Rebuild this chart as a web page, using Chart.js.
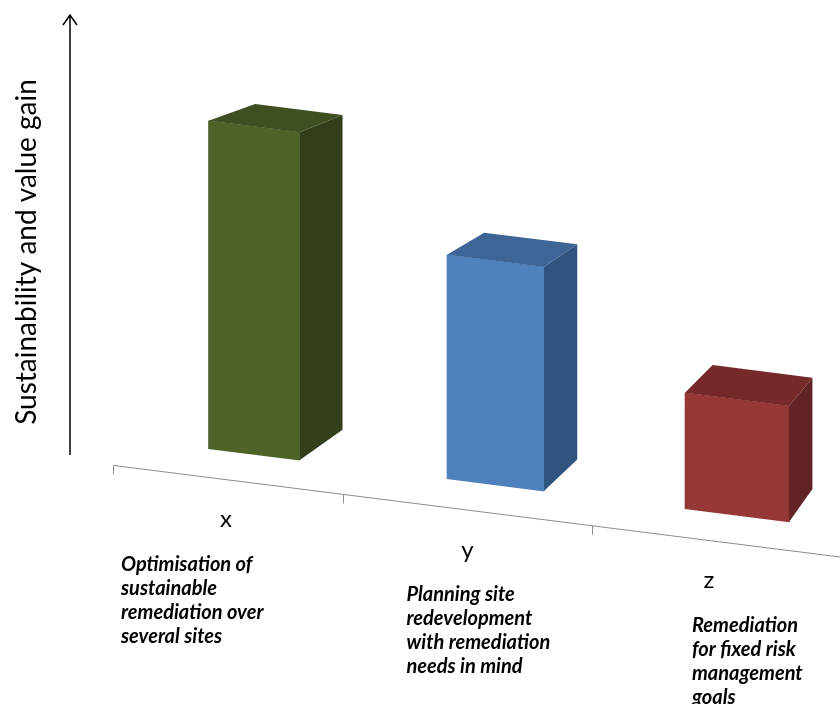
<!DOCTYPE html>
<html>
<head>
<meta charset="utf-8">
<script src="https://cdn.jsdelivr.net/npm/chart.js@4.4.1/dist/chart.umd.min.js"></script>
<style>
html, body { margin: 0; padding: 0; background: #fff; }
#wrap { width: 840px; height: 704px; }
</style>
</head>
<body>
<div id="wrap"><canvas id="chart" width="840" height="704"></canvas></div>
<script>
// chart data
const categories = ['x', 'y', 'z'];
const descriptions = [
    ['Optimisation of', 'sustainable', 'remediation over', 'several sites'],
    ['Planning site', 'redevelopment', 'with remediation', 'needs in mind'],
    ['Remediation', 'for fixed risk', 'management', 'goals']
];
const gainValues = [82, 56, 29];
const axisTitle = 'Sustainability and value gain';

// colours: front, top and side faces
const frontColors = ['#4f6228', '#4f81bd', '#953735'];
const topColors = ['#3f4f22', '#3d6596', '#752a29'];
const sideColors = ['#333f1a', '#31547f', '#612323'];
// bars get wider to the right (perspective)
const barWidths = [91, 97, 104];

// fake 3d: skew of the front plane and a far vanishing point for depth
const SKEW = 0.126;
const VP = { x: 1375, y: -300 };
const DEPTH = 0.96;
const FRONT = 1.032;

const sk = (x, y) => ({ x: x, y: y + SKEW * x });
const toward = (p, k) => ({ x: VP.x + (p.x - VP.x) * k, y: VP.y + (p.y - VP.y) * k });

function poly(ctx, pts, color) {
    ctx.beginPath();
    ctx.moveTo(pts[0].x, pts[0].y);
    for (let i = 1; i < pts.length; i++) ctx.lineTo(pts[i].x, pts[i].y);
    ctx.closePath();
    ctx.fillStyle = color;
    ctx.fill();
}

const perspective3d = {
    id: 'perspective3d',
    beforeDatasetsDraw(chart) {
        chart.ctx.save();
        chart.ctx.transform(1, SKEW, 0, 1, 0, 0);
    },
    afterDatasetsDraw(chart) {
        const ctx = chart.ctx;
        ctx.restore();
        chart.data.datasets.forEach((ds, d) => {
            chart.getDatasetMeta(d).data.forEach((bar, i) => {
                if (ds.data[i] == null) return;
                const half = bar.width / 2;
                const tl = sk(bar.x - half, bar.y);
                const tr = sk(bar.x + half, bar.y);
                const br = sk(bar.x + half, bar.base);
                poly(ctx, [tr, br, toward(br, DEPTH), toward(tr, DEPTH)], sideColors[i]);
                poly(ctx, [tl, tr, toward(tr, DEPTH), toward(tl, DEPTH)], topColors[i]);
            });
        });
    },
    afterDraw(chart) {
        const ctx = chart.ctx;
        const xs = chart.scales.x;
        const floor = chart.scales.y.getPixelForValue(0);

        // sloping category axis in front of the bars
        const bounds = [-0.42, 0.5, 1.5, 2.55].map(v => toward(sk(xs.getPixelForValue(v), floor), FRONT));
        ctx.save();
        ctx.strokeStyle = '#8c8c8c';
        ctx.lineWidth = 1;
        ctx.beginPath();
        ctx.moveTo(bounds[0].x, bounds[0].y);
        bounds.forEach(p => ctx.lineTo(p.x, p.y));
        ctx.stroke();
        bounds.slice(0, 3).forEach(p => {
            ctx.beginPath();
            ctx.moveTo(Math.round(p.x) + 0.5, p.y);
            ctx.lineTo(Math.round(p.x) + 0.5, p.y + 9);
            ctx.stroke();
        });

        // value arrow
        ctx.strokeStyle = '#000';
        ctx.lineWidth = 1.5;
        ctx.beginPath();
        ctx.moveTo(70, 455);
        ctx.lineTo(70, 15);
        ctx.moveTo(63, 25);
        ctx.lineTo(70, 15);
        ctx.lineTo(77, 25);
        ctx.stroke();

        ctx.fillStyle = '#000';
        ctx.translate(36, 252);
        ctx.rotate(-Math.PI / 2);
        ctx.font = '28px Lato';
        ctx.textAlign = 'center';
        ctx.textBaseline = 'alphabetic';
        ctx.fillText(axisTitle, 0, 0);
        ctx.restore();

        // category letters and descriptions
        ctx.save();
        ctx.fillStyle = '#000';
        categories.forEach((c, i) => {
            const cx = xs.getPixelForValue(i);
            const fy = floor + SKEW * cx;
            ctx.font = '24px Lato';
            ctx.textAlign = 'center';
            ctx.textBaseline = 'middle';
            ctx.fillText(c, cx - 28, fy + 65);
            ctx.font = 'italic bold 20px Lato';
            ctx.textAlign = 'left';
            descriptions[i].forEach((line, j) => {
                ctx.fillText(line, cx - 133 + 44 * i, fy + 110 + 24 * j);
            });
        });
        ctx.restore();
    }
};

// one dataset per bar so each can get its own perspective width
const datasets = gainValues.map((v, i) => ({
    data: categories.map((_, j) => (j === i ? v : null)),
    backgroundColor: frontColors[i],
    borderWidth: 0,
    barThickness: barWidths[i],
    clip: false
}));

new Chart(document.getElementById('chart'), {
    type: 'bar',
    data: { labels: categories, datasets: datasets },
    options: {
        responsive: false,
        animation: false,
        events: [],
        grouped: false,
        layout: { padding: { left: 254, right: 103, top: 22.5, bottom: 281.5 } },
        plugins: { legend: { display: false }, tooltip: { enabled: false } },
        scales: {
            x: { display: false, offset: false },
            y: { display: false, min: 0, max: 100 }
        }
    },
    plugins: [perspective3d]
});
</script>
</body>
</html>
